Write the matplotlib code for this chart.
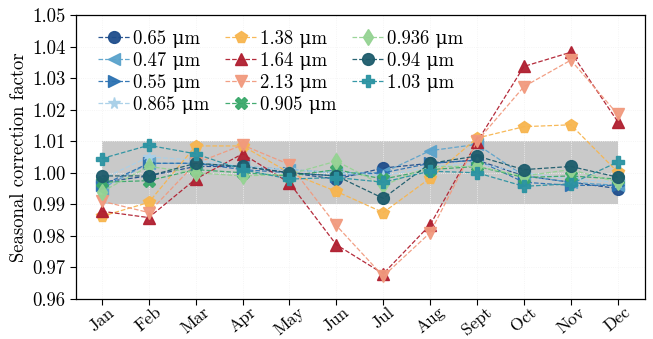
import matplotlib
matplotlib.use("Agg")
import matplotlib.pyplot as plt

plt.rcParams['font.family'] = ['cmr10', 'DejaVu Serif']
plt.rcParams['axes.formatter.use_mathtext'] = True

months = ["Jan", "Feb", "Mar", "Apr", "May", "Jun", "Jul", "Aug", "Sept", "Oct", "Nov", "Dec"]

# seasonal correction factor per band
b065 = [0.997, 0.999, 1.002, 1.002, 1.000, 0.998, 1.0015, 1.003, 1.004, 0.999, 0.997, 0.995]
b047 = [0.995, 1.003, 1.003, 1.002, 1.001, 1.000, 1.000, 1.007, 1.009, 0.999, 0.997, 0.996]
b055 = [0.996, 1.003, 1.003, 1.001, 1.000, 0.999, 1.000, 1.003, 1.004, 0.997, 0.996, 0.996]
b0865 = [0.998, 1.005, 1.004, 1.002, 1.001, 1.000, 0.999, 1.002, 1.003, 1.000, 0.998, 0.997]
b138 = [0.9862, 0.9906, 1.0085, 1.0085, 1.000, 0.9941, 0.9874, 0.9983, 1.0110, 1.0146, 1.0152, 1.0002]
b164 = [0.9878, 0.9858, 0.998, 1.006, 0.9968, 0.9772, 0.968, 0.9835, 1.0098, 1.0337, 1.0382, 1.0162]
b213 = [0.991, 0.9874, 1.003, 1.0088, 1.0026, 0.9833, 0.9672, 0.981, 1.0100, 1.0273, 1.0357, 1.0185]
b0905 = [0.997, 0.9975, 1.001, 1.000, 0.999, 1.001, 0.998, 1.001, 1.002, 0.9985, 0.999, 0.998]
b0936 = [0.994, 1.002, 1.000, 0.999, 0.9995, 1.0037, 0.996, 1.002, 1.002, 0.999, 1.001, 0.997]
b094 = [0.999, 0.999, 1.003, 1.002, 1.000, 0.999, 0.9919, 1.003, 1.0053, 1.001, 1.002, 0.9986]
b103 = [1.0045, 1.0087, 1.006, 1.001, 0.998, 0.9985, 0.997, 1.0005, 1.000, 0.9957, 0.9965, 1.0034]

MU = "\u03bc"
series = [
    ("0.65 " + MU + "m", b065, "o", "#1f4e8c"),
    ("0.47 " + MU + "m", b047, "<", "#5ba3cc"),
    ("0.55 " + MU + "m", b055, ">", "#2c72b2"),
    ("0.865 " + MU + "m", b0865, "*", "#a9d0e8"),
    ("1.38 " + MU + "m", b138, "p", "#f7b54f"),
    ("1.64 " + MU + "m", b164, "^", "#b01f30"),
    ("2.13 " + MU + "m", b213, "v", "#f19a7e"),
    ("0.905 " + MU + "m", b0905, "X", "#3aa86a"),
    ("0.936 " + MU + "m", b0936, "d", "#95d393"),
    ("0.94 " + MU + "m", b094, "o", "#1d5c6c"),
    ("1.03 " + MU + "m", b103, "P", "#2b93a2"),
]

fig = plt.figure(figsize=(6.53, 3.39), dpi=100)
ax = fig.add_axes([0.1164, 0.118, 0.8713, 0.8378])

x = list(range(len(months)))
ax.fill_between([x[0], x[-1]], 0.99, 1.01, color="#c9c9c9", zorder=0, lw=0)

for label, vals, mk, col in series:
    ax.plot(x, vals, ls="--", lw=0.9, marker=mk, ms=8.5, color=col,
            label=label, alpha=0.95)

ax.set_xlim(-0.55, 11.58)
ax.set_ylim(0.96, 1.05)
ax.set_yticks([0.96, 0.97, 0.98, 0.99, 1.00, 1.01, 1.02, 1.03, 1.04, 1.05])
ax.set_yticklabels(["%.2f" % v for v in ax.get_yticks()])
ax.set_xticks(x)
ax.set_xticklabels(months, rotation=40, ha="center")
ax.tick_params(labelsize=13.5, direction="out", length=4, width=0.8)
ax.tick_params(axis="x", pad=0, labelsize=12.5)
ax.set_ylabel("Seasonal correction factor", fontsize=13.5, labelpad=3)
ax.grid(True, color="#f2f2f2", lw=0.6, ls=":")
ax.set_axisbelow(True)
for s in ax.spines.values():
    s.set_linewidth(0.9)

ax.legend(ncol=3, loc="upper left", bbox_to_anchor=(0.025, 0.975), fontsize=13.5,
          frameon=False, handlelength=1.7, handletextpad=0.2, labelspacing=0.22,
          columnspacing=0.8, borderaxespad=0.0)

fig.savefig("out.png", dpi=100)
